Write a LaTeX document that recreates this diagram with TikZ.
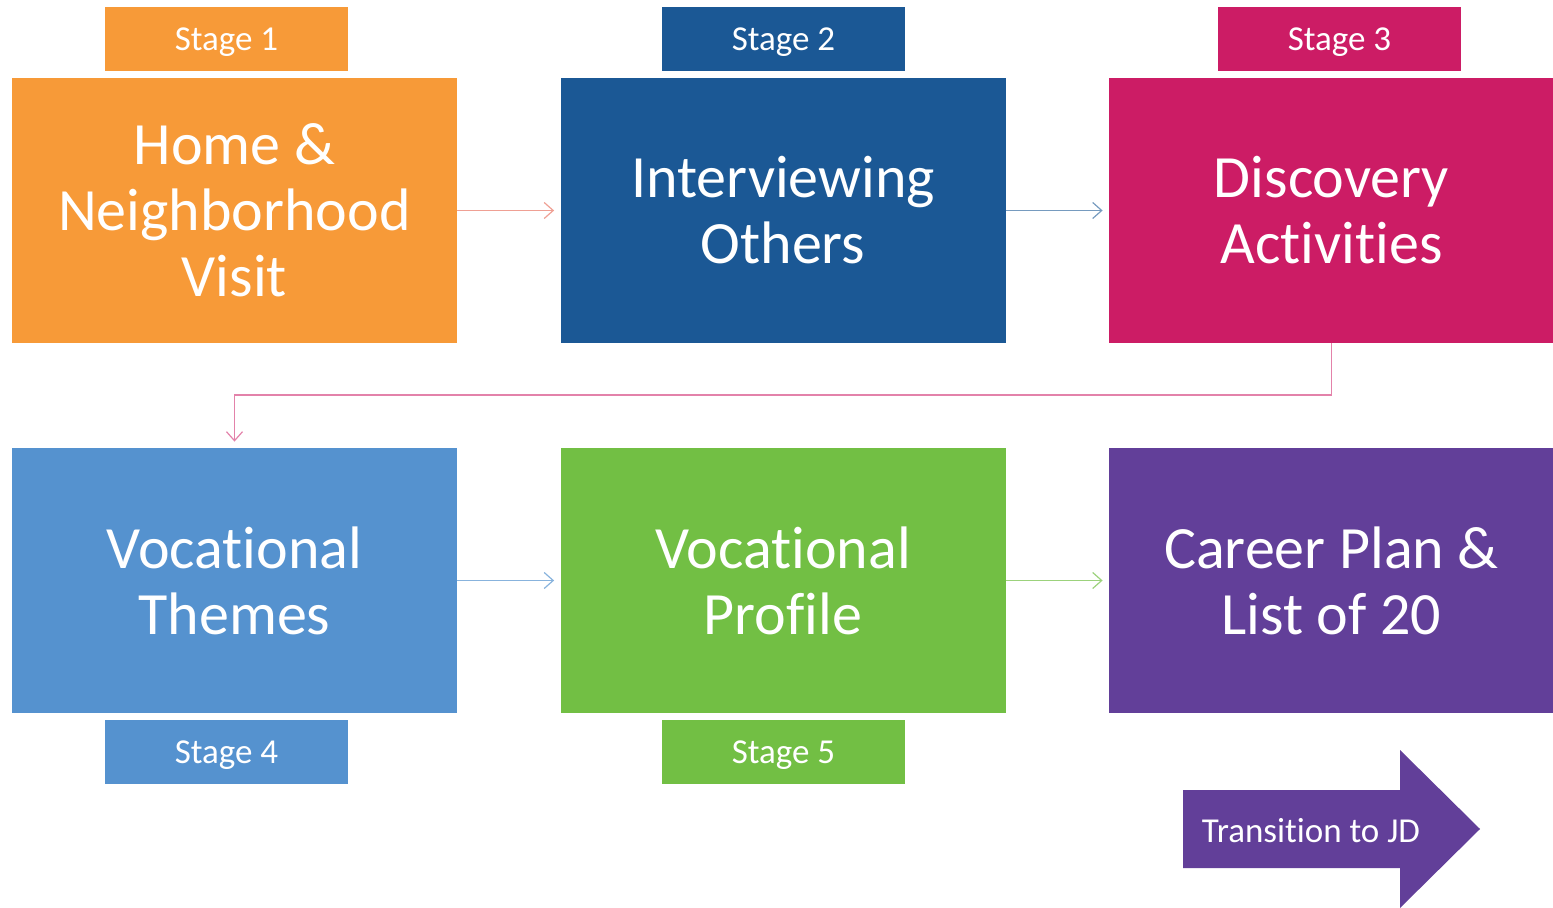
\documentclass[tikz,border=0pt]{standalone}
\usepackage{fontspec}
\setmainfont{Carlito}[Ligatures=NoCommon]
\usetikzlibrary{arrows.meta}
\definecolor{cOrange}{HTML}{F79A38}
\definecolor{cNavy}{HTML}{1B5895}
\definecolor{cMagenta}{HTML}{CC1C65}
\definecolor{cSky}{HTML}{5592CF}
\definecolor{cGreen}{HTML}{72BF44}
\definecolor{cPurple}{HTML}{623F99}
\begin{document}
\begin{tikzpicture}[x=0.5pt,y=-0.5pt,
  bigbox/.style={inner sep=0pt, minimum width=222.5pt, minimum height=132.5pt,
    text=white, align=center, font=\fontsize{30}{33}\selectfont},
  stagebox/.style={inner sep=0pt, minimum width=121.5pt, minimum height=32pt,
    text depth=0pt, text=white, font=\fontsize{17.5}{20}\selectfont},
  link/.style={line width=0.6pt, -{Straight Barb[length=4.5pt,width=8pt]},
    shorten >=3pt}]
\useasboundingbox (0,0) rectangle (1553,908);

% main stage boxes
\node[bigbox, fill=cOrange]  (b1) at (234.5,210.5) {Home \&\\Neighborhood\\Visit};
\node[bigbox, fill=cNavy]    (b2) at (783,210.5)   {Interviewing\\Others};
\node[bigbox, fill=cMagenta] (b3) at (1331.5,210.5){Discovery\\Activities};
\node[bigbox, fill=cSky]     (b4) at (234.5,580.5) {Vocational\\Themes};
\node[bigbox, fill=cGreen]   (b5) at (783,580.5)   {Vocational\\Profile};
\node[bigbox, fill=cPurple]  (b6) at (1331.5,580.5){Career Plan \&\\List of 20};

% stage tags
\node[stagebox, fill=cOrange]  (s1) at (226.5,39)  {Stage 1};
\node[stagebox, fill=cNavy]    (s2) at (783.5,39)  {Stage 2};
\node[stagebox, fill=cMagenta] (s3) at (1339.5,39) {Stage 3};
\node[stagebox, fill=cSky]     (s4) at (226.5,752) {Stage 4};
\node[stagebox, fill=cGreen]   (s5) at (783.5,752) {Stage 5};

% connectors between stages
\draw[link, draw=cOrange!55!cMagenta!60] (b1.east) -- (b2.west);
\draw[link, draw=cNavy!60] (b2.east) -- (b3.west);
\coordinate (turn) at (1331.5,395);
\draw[link, draw=cMagenta!55] (b3.south) -- (turn) -| (b4.north);
\draw[link, draw=cSky!70] (b4.east) -- (b5.west);
\draw[link, draw=cGreen!70] (b5.east) -- (b6.west);

% transition arrow
\fill[cPurple] (1183,790) -- (1400,790) -- (1400,750) -- (1480,829)
  -- (1400,908) -- (1400,868) -- (1183,868) -- cycle;
\node[text=white, font=\fontsize{17.5}{20}\selectfont] (tr) at (1311,831) {Transition to JD};
\end{tikzpicture}
\end{document}
